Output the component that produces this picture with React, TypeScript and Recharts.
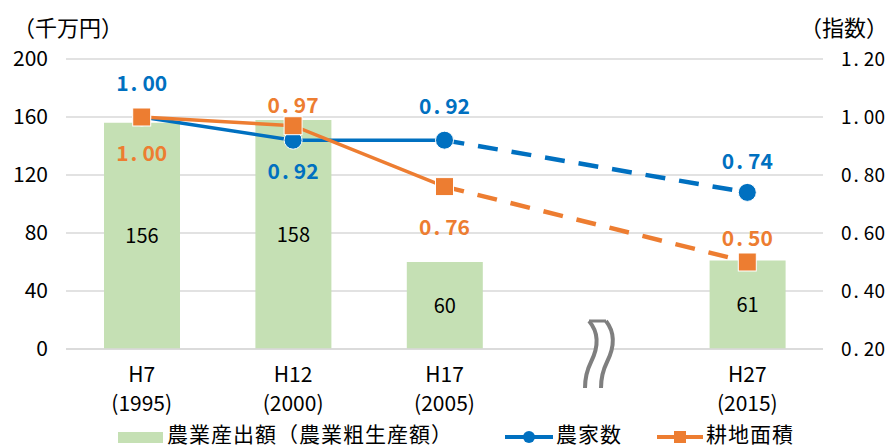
import { ComposedChart, Bar, Line, XAxis, YAxis, CartesianGrid, LabelList } from 'recharts';

const categories = ['H7', 'H12', 'H17', '', 'H27'];
const years = ['(1995)', '(2000)', '(2005)', '', '(2015)'];
const output = [156, 158, 60, null, 61];
const farmSolid = [1.0, 0.92, 0.92, null, null];
const farmDashed = [null, null, 0.92, null, 0.74];
const landSolid = [1.0, 0.97, 0.76, null, null];
const landDashed = [null, null, 0.76, null, 0.5];
const leftTicks = [0, 40, 80, 120, 160, 200];
const rightTicks = [0.2, 0.4, 0.6, 0.8, 1.0, 1.2];

const data = categories.map((cat, i) => ({
  cat,
  output: output[i],
  farmSolid: farmSolid[i],
  farmDashed: farmDashed[i],
  landSolid: landSolid[i],
  landDashed: landDashed[i],
}));

const BLUE = '#0070C0';
const ORANGE = '#ED7D31';
const GREEN = '#C5E0B4';
const GRID = '#D9D9D9';
const JP = "'Noto Sans CJK JP', sans-serif";
const NARROW = "'Liberation Sans Narrow', 'Noto Sans CJK JP', sans-serif";

// label offsets (px) relative to each point, per category
const farmLabelDy = [-35, 30, -35, 0, -32];
const landLabelDy = [35, -22, 39, 0, -25];

// "1.00" with the wide gap after the period seen in the original font
const Spaced = ({ s }: { s: string }) => {
  const [a, b] = s.split('.');
  return (
    <>
      <tspan>{a}</tspan>
      <tspan dx={2}>.</tspan>
      <tspan dx={5}>{b}</tspan>
    </>
  );
};

const XTick = ({ x, y, payload }: any) => {
  const i = payload.index;
  return (
    <g fontFamily={NARROW} fontSize={21} fill="#000">
      <text x={x} y={y + 25} textAnchor="middle">{categories[i]}</text>
      <text x={x} y={y + 54} textAnchor="middle">{years[i]}</text>
    </g>
  );
};

const RightTick = ({ x, y, payload }: any) => (
  <text x={x} y={y} dy={7} textAnchor="start" fontFamily={JP} fontSize={19} fill="#000">
    <Spaced s={Number(payload.value).toFixed(2)} />
  </text>
);

const makeLabel = (color: string, dys: number[], only: number[]) => (props: any) => {
  const { x, y, value, index } = props;
  if (value == null || !only.includes(index)) return null;
  return (
    <text
      x={x}
      y={y + dys[index]}
      textAnchor="middle"
      dominantBaseline="central"
      fontFamily={JP}
      fontWeight="bold"
      fontSize={21}
      fill={color}
    >
      <Spaced s={Number(value).toFixed(2)} />
    </text>
  );
};

const Circle = (props: any) => {
  const { cx, cy, index } = props;
  if (cy == null) return <g key={`c${index}`} />;
  return <circle key={`c${index}`} cx={cx} cy={cy} r={9} fill={BLUE} stroke="#fff" strokeWidth={1} />;
};

const Square = (props: any) => {
  const { cx, cy, index } = props;
  if (cy == null) return <g key={`s${index}`} />;
  return <rect key={`s${index}`} x={cx - 9} y={cy - 9} width={18} height={18} fill={ORANGE} stroke="#fff" strokeWidth={1} />;
};

const onlyLast = (Dot: any) => (props: any) =>
  props.index === 4 ? Dot(props) : <g key={`n${props.index}`} />;

export default function App() {
  return (
    <div style={{ position: 'absolute', left: 0, top: 0, width: 893, height: 448, background: '#fff', fontFamily: JP }}>
      <div style={{ position: 'absolute', left: 13, top: 15, fontSize: 22, lineHeight: '22px' }}>（千万円）</div>
      <div style={{ position: 'absolute', left: 800, top: 15, fontSize: 22, lineHeight: '22px' }}>（指数）</div>
      <ComposedChart width={893} height={448} data={data} margin={{ top: 59, right: 0, bottom: 40, left: 0 }}>
        <CartesianGrid yAxisId="left" vertical={false} stroke={GRID} strokeWidth={1.5} />
        <XAxis
          dataKey="cat"
          axisLine={{ stroke: GRID, strokeWidth: 1.5 }}
          tickLine={false}
          tick={<XTick />}
          height={59}
          interval={0}
        />
        <YAxis
          yAxisId="left"
          width={66}
          domain={[0, 200]}
          ticks={leftTicks}
          axisLine={false}
          tickLine={false}
          tickSize={0}
          tickMargin={18}
          tick={{ fill: '#000', fontSize: 21, fontFamily: NARROW }}
        />
        <YAxis
          yAxisId="right"
          orientation="right"
          width={70}
          domain={[0.2, 1.2]}
          ticks={rightTicks}
          axisLine={false}
          tickLine={false}
          tickSize={0}
          tickMargin={18}
          tick={<RightTick />}
        />
        <Bar yAxisId="left" dataKey="output" fill={GREEN} barSize={76} isAnimationActive={false}>
          <LabelList dataKey="output" position="center" fill="#000" fontSize={20} fontFamily={NARROW} />
        </Bar>
        <Line yAxisId="right" dataKey="farmDashed" stroke={BLUE} strokeWidth={4.5} strokeDasharray="20 14" connectNulls dot={onlyLast(Circle)} activeDot={false} isAnimationActive={false}>
          <LabelList dataKey="farmDashed" content={makeLabel(BLUE, farmLabelDy, [4])} />
        </Line>
        <Line yAxisId="right" dataKey="farmSolid" stroke={BLUE} strokeWidth={3.5} dot={Circle} activeDot={false} isAnimationActive={false}>
          <LabelList dataKey="farmSolid" content={makeLabel(BLUE, farmLabelDy, [0, 1, 2])} />
        </Line>
        <Line yAxisId="right" dataKey="landDashed" stroke={ORANGE} strokeWidth={4.5} strokeDasharray="20 14" connectNulls dot={onlyLast(Square)} activeDot={false} isAnimationActive={false}>
          <LabelList dataKey="landDashed" content={makeLabel(ORANGE, landLabelDy, [4])} />
        </Line>
        <Line yAxisId="right" dataKey="landSolid" stroke={ORANGE} strokeWidth={3.5} dot={Square} activeDot={false} isAnimationActive={false}>
          <LabelList dataKey="landSolid" content={makeLabel(ORANGE, landLabelDy, [0, 1, 2])} />
        </Line>
      </ComposedChart>
      {/* axis break mark */}
      <svg style={{ position: 'absolute', left: 0, top: 0 }} width={893} height={448} pointerEvents="none">
        <path
          d="M589 321 C 601 335, 597 350, 591 362 C 586 372, 585 380, 585 388 L 601 388 C 601 380, 602 372, 607 362 C 613 350, 617 335, 606 321 Z"
          fill="#fff"
        />
        <path d="M589 321 C 601 335, 597 350, 591 362 C 586 372, 585 380, 585 388" stroke="#7F7F7F" strokeWidth={4} fill="none" />
        <path d="M606 321 C 617 335, 613 350, 607 362 C 602 372, 601 380, 601 388" stroke="#7F7F7F" strokeWidth={4} fill="none" />
        <path d="M589 321 L 606 321" stroke="#7F7F7F" strokeWidth={3} />
      </svg>
      {/* legend */}
      <div style={{ position: 'absolute', top: 420, left: 0, width: 893, height: 26, fontSize: 21, lineHeight: '26px', color: '#000' }}>
        <div style={{ position: 'absolute', left: 118, top: 12, width: 45, height: 11, background: GREEN }} />
        <div style={{ position: 'absolute', left: 167, top: 0, whiteSpace: 'nowrap', letterSpacing: 1 }}>農業産出額（農業粗生産額）</div>
        <svg style={{ position: 'absolute', left: 503, top: 4 }} width={52} height={26}>
          <line x1={2} y1={13} x2={50} y2={13} stroke={BLUE} strokeWidth={4} />
          <circle cx={26} cy={13} r={6} fill={BLUE} />
        </svg>
        <div style={{ position: 'absolute', left: 556, top: 0, whiteSpace: 'nowrap', letterSpacing: 1 }}>農家数</div>
        <svg style={{ position: 'absolute', left: 655, top: 4 }} width={50} height={26}>
          <line x1={2} y1={13} x2={48} y2={13} stroke={ORANGE} strokeWidth={4} />
          <rect x={19} y={7} width={12} height={12} fill={ORANGE} />
        </svg>
        <div style={{ position: 'absolute', left: 706, top: 0, whiteSpace: 'nowrap', letterSpacing: 1 }}>耕地面積</div>
      </div>
    </div>
  );
}
